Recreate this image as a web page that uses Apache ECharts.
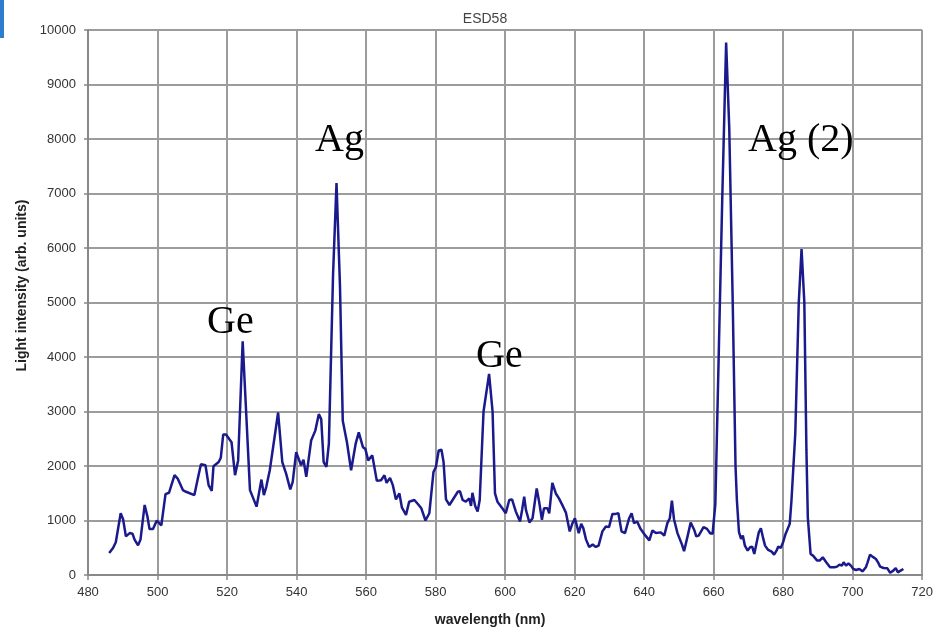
<!DOCTYPE html>
<html>
<head>
<meta charset="utf-8">
<title>ESD58</title>
<script src="https://cdn.jsdelivr.net/npm/echarts@6/dist/echarts.min.js"></script>
<style>
  html, body { margin: 0; padding: 0; background: #ffffff; }
  #chart { width: 936px; height: 632px; }
</style>
</head>
<body>
<div id="chart"></div>
<script>
// Emission spectrum ESD58: wavelength (nm) vs light intensity (arb. units)
const wavelength = [
  486.1, 487.2, 488.0, 489.4, 490.1, 490.9, 492.0, 492.8, 493.4, 494.4,
  495.1, 496.3, 497.1, 497.7, 498.7, 499.8, 501.1, 502.3, 503.3, 504.9,
  505.8, 507.3, 508.2, 510.6, 511.8, 512.5, 513.8, 514.7, 515.6, 516.1,
  517.6, 518.2, 518.9, 519.7, 521.3, 522.3, 523.2, 524.5, 526.6, 528.5,
  529.9, 530.6, 531.3, 532.3, 534.7, 535.9, 537.0, 538.2, 538.9, 539.9,
  541.3, 542.0, 542.8, 544.2, 545.4, 546.4, 547.1, 547.8, 548.6, 549.3,
  550.5, 551.5, 552.5, 553.3, 554.5, 555.7, 557.0, 557.9, 559.1, 559.8,
  560.6, 561.8, 563.1, 564.3, 565.3, 565.9, 566.9, 567.7, 568.6, 569.6,
  570.3, 571.5, 572.4, 573.9, 574.9, 575.9, 576.3, 577.1, 578.2, 579.4,
  580.1, 580.9, 581.7, 582.3, 583.0, 584.0, 584.9, 586.4, 587.0, 587.8,
  588.7, 589.7, 590.2, 590.6, 591.4, 592.1, 592.7, 593.8, 595.4, 596.4,
  597.1, 597.8, 599.2, 600.2, 601.2, 602.0, 603.1, 603.6, 604.3, 604.9,
  605.5, 606.0, 607.0, 607.9, 609.1, 609.8, 610.6, 611.2, 612.2, 612.7,
  613.6, 614.6, 615.5, 616.7, 617.5, 618.6, 619.4, 620.1, 621.2, 621.9,
  622.5, 623.3, 624.2, 625.2, 626.1, 626.9, 628.0, 629.0, 629.9, 630.9,
  631.8, 632.6, 633.5, 634.5, 635.7, 636.4, 637.1, 638.0, 639.0, 640.4,
  641.5, 642.4, 643.4, 644.8, 645.8, 646.7, 647.4, 648.0, 648.6, 649.6,
  650.1, 650.9, 651.5, 652.5, 653.4, 654.4, 655.0, 655.7, 657.1, 658.1,
  659.0, 659.7, 660.5, 661.5, 662.5, 663.6, 664.5, 665.5, 666.3, 666.7,
  667.3, 667.9, 668.4, 669.0, 669.8, 670.5, 671.1, 671.7, 672.4, 673.0,
  673.6, 674.3, 674.8, 675.7, 676.7, 677.4, 678.1, 678.6, 679.3, 680.0,
  680.7, 681.2, 681.9, 682.4, 683.5, 684.5, 685.3, 686.1, 686.7, 687.1,
  687.9, 688.6, 689.0, 689.8, 690.5, 691.4, 692.4, 693.5, 694.8, 695.5,
  696.2, 696.9, 697.4, 698.1, 698.8, 699.5, 700.2, 701.0, 701.9, 702.9,
  703.8, 704.3, 705.0, 705.7, 706.7, 707.3, 707.9, 708.9, 710.0, 710.8,
  711.7, 712.4, 713.0, 713.8, 714.6
];

const intensity = [
  405, 496, 600, 1133, 1024, 709, 769, 758, 649, 545,
  649, 1285, 1073, 842, 842, 1000, 909, 1485, 1509, 1831,
  1769, 1558, 1527, 1467, 1831, 2031, 2013, 1649, 1545, 1994,
  2073, 2151, 2576, 2576, 2436, 1831, 2103, 4290, 1558, 1254,
  1751, 1467, 1618, 1922, 2982, 2073, 1860, 1569, 1709, 2254,
  2013, 2115, 1800, 2467, 2649, 2951, 2860, 2073, 1982, 2405,
  5500, 7190, 5300, 2830, 2436, 1922, 2405, 2618, 2345, 2314,
  2103, 2194, 1727, 1740, 1831, 1691, 1782, 1649, 1387, 1496,
  1242, 1103, 1345, 1376, 1303, 1224, 1254, 1000, 1133, 1891,
  1982, 2285, 2297, 2073, 1387, 1285, 1376, 1527, 1540, 1376,
  1345, 1405, 1267, 1509, 1267, 1163, 1376, 3000, 3690, 3000,
  1496, 1345, 1224, 1133, 1376, 1387, 1163, 1133, 982, 1194,
  1436, 1194, 964, 1042, 1587, 1345, 1012, 1224, 1224, 1133,
  1691, 1496, 1405, 1254, 1145, 800, 951, 1042, 769, 940,
  860, 649, 515, 558, 515, 540, 800, 891, 878, 1121,
  1121, 1133, 800, 769, 1042, 1133, 951, 982, 842, 722,
  636, 818, 769, 782, 722, 951, 1042, 1364, 1024, 769,
  758, 558, 436, 709, 964, 831, 709, 723, 877, 846,
  766, 754, 1306, 4130, 6950, 9770, 8200, 5000, 2000, 1367,
  785, 662, 723, 539, 447, 509, 521, 386, 601, 785,
  858, 662, 539, 460, 429, 374, 447, 521, 497, 601,
  754, 723, 938, 1367, 2600, 5000, 5980, 5000, 2300, 1060,
  386, 356, 386, 264, 264, 325, 233, 141, 141, 153,
  190, 172, 233, 172, 215, 172, 110, 92, 110, 67,
  141, 233, 374, 337, 294, 233, 153, 129, 123, 40,
  80, 129, 49, 80, 110
];

// Axis ranges and tick spacing
const xTicks = { min: 480, max: 720, step: 20 };
const yTicks = { min: 0, max: 10000, step: 1000 };

// Peak labels
const peakLabels = [
  { text: 'Ge', x: 207, y: 322 },
  { text: 'Ag', x: 315, y: 140 },
  { text: 'Ge', x: 476, y: 356 },
  { text: 'Ag (2)', x: 748, y: 140 }
];

const chart = echarts.init(document.getElementById('chart'), null, { renderer: 'canvas' });

const sans = '"Liberation Sans", Arial, Helvetica, sans-serif';
const gridColor = '#9c9c9c';

const points = wavelength.map((w, i) => [w, intensity[i]]);

chart.setOption({
  animation: false,
  backgroundColor: '#ffffff',
  title: {
    text: 'ESD58',
    left: 480,
    textAlign: 'center',
    top: 7,
    textStyle: { fontFamily: sans, fontSize: 14, fontWeight: 'normal', color: '#444' }
  },
  grid: { left: 88, right: 11, top: 30, bottom: 52.5, containLabel: false },
  xAxis: {
    type: 'value',
    min: xTicks.min,
    max: xTicks.max,
    interval: xTicks.step,
    name: 'wavelength (nm)',
    nameLocation: 'middle',
    nameGap: 38,
    nameTextStyle: { fontFamily: sans, fontSize: 14, fontWeight: 'bold', color: '#222', padding: [0, 30, 0, 0] },
    axisLine: { show: true, onZero: false, lineStyle: { color: '#888', width: 2 } },
    axisTick: { show: true, inside: false, length: 5, lineStyle: { color: '#888', width: 1.5 } },
    axisLabel: { fontFamily: sans, fontSize: 13, color: '#333', margin: 11 },
    splitLine: { show: true, lineStyle: { color: gridColor, width: 2 } }
  },
  yAxis: {
    type: 'value',
    min: yTicks.min,
    max: yTicks.max,
    interval: yTicks.step,
    name: 'Light intensity (arb. units)',
    nameLocation: 'middle',
    nameGap: 56,
    nameTextStyle: { fontFamily: sans, fontSize: 14, fontWeight: 'bold', color: '#222', padding: [0, 0, 0, 34] },
    axisLine: { show: true, lineStyle: { color: '#888', width: 2 } },
    axisTick: { show: true, inside: false, length: 4, lineStyle: { color: '#888', width: 1.5 } },
    axisLabel: { fontFamily: sans, fontSize: 13, color: '#333', margin: 12, formatter: v => String(v) },
    splitLine: { show: true, lineStyle: { color: gridColor, width: 2 } }
  },
  series: [{
    type: 'line',
    data: points,
    showSymbol: false,
    smooth: false,
    lineStyle: { color: '#1a1a8c', width: 2.5 },
    z: 5
  }],
  graphic: [
    {
      type: 'rect',
      left: 0,
      top: 0,
      shape: { width: 4, height: 38 },
      style: { fill: '#2e7dd1' },
      z: 10
    }
  ].concat(peakLabels.map(p => ({
    type: 'text',
    x: p.x,
    y: p.y,
    z: 10,
    style: {
      text: p.text,
      fill: '#000',
      font: '40px "Liberation Serif", "Times New Roman", serif',
      textAlign: 'left',
      textVerticalAlign: 'middle'
    }
  })))
});
</script>
</body>
</html>
